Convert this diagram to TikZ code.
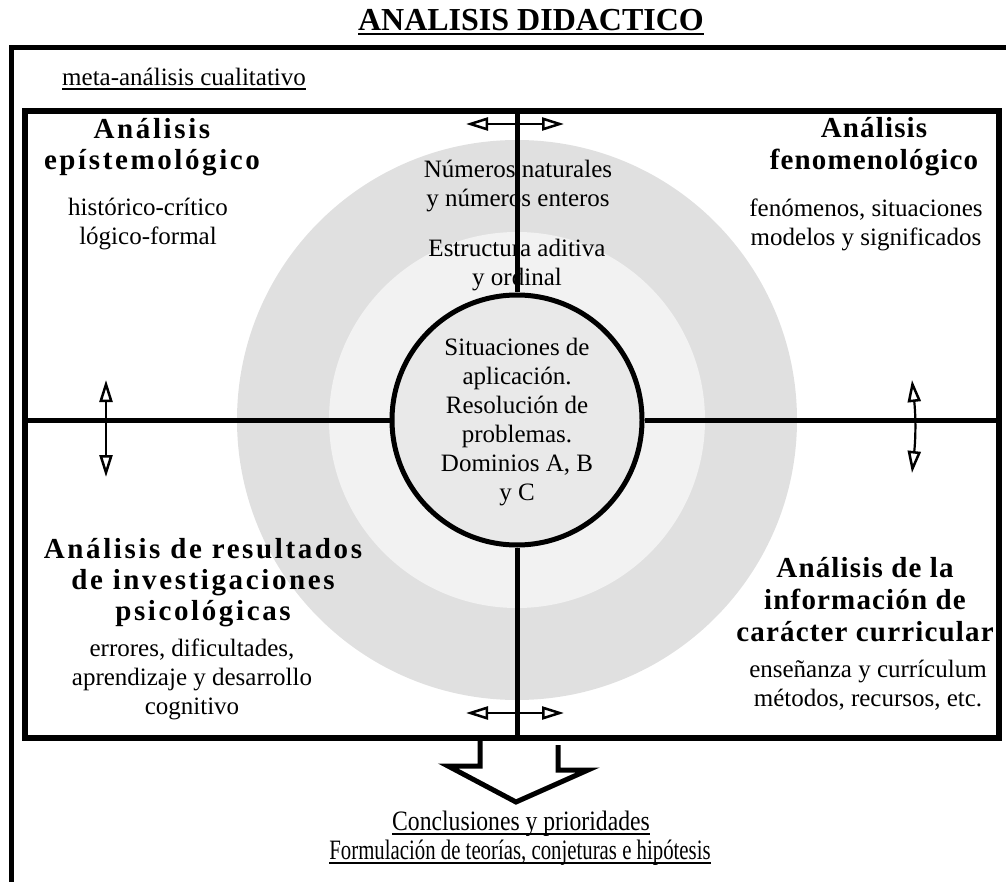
\documentclass[tikz,border=0pt]{standalone}
\usepackage{fontspec}
\setmainfont{Liberation Serif}
\newfontfamily\spacedL{Liberation Serif}[LetterSpace=9]
\newfontfamily\spacedR{Liberation Serif}[LetterSpace=4]
\newcommand\ulthick[1]{\leavevmode\setbox0\hbox{#1}\rlap{\vrule width\wd0 height -2.5pt depth 4.5pt}\box0}
\usetikzlibrary{arrows.meta}
\begin{document}
\begin{tikzpicture}[x=1pt,y=-1pt,
  frame/.style={draw=black,line width=5pt},
  divider/.style={draw=black,line width=5pt},
  dbl/.style={line width=2.2pt,{Triangle[open,length=22pt,width=13pt,line width=2.5pt]}-{Triangle[open,length=22pt,width=13pt,line width=2.5pt]}},
  body/.style={align=center,font=\fontsize{25}{29}\selectfont,inner sep=0pt},
  headL/.style={align=center,font=\fontsize{29}{31}\selectfont\spacedL\bfseries,inner sep=0pt},
  headR/.style={align=center,font=\fontsize{29}{32}\selectfont\spacedR\bfseries,inner sep=0pt},
  bigarrow/.style={draw=black,line width=5pt,line join=miter}]
\useasboundingbox (0,0) rectangle (1006,882);
\begin{scope}
\clip (0,0) rectangle (1006,882);
% shaded discs
\fill[gray!24] (517,420) circle (280pt);
\fill[gray!10] (517,420) circle (188pt);
% outer frame
\draw[frame] (11,48) rectangle (1030,910);
% inner box
\node[draw=black,line width=6pt,minimum width=974pt,minimum height=627pt,inner sep=0pt] (inner) at (512,424.5) {};
% central circle
\node[circle,draw=black,line width=5pt,fill=gray!17,minimum size=250pt,inner sep=0pt] (core) at (517,420) {};
% dividers
\draw[divider] (core.north) -- (core.north |- inner.north);
\draw[divider] (core.south) -- (core.south |- inner.south);
\draw[divider] (core.west) -- (core.west -| inner.west);
\draw[divider] (core.east) -- (core.east -| inner.east);
% double arrows
\coordinate (ta1) at (466,124); \coordinate (ta2) at (564,124);
\coordinate (ba1) at (466,713); \coordinate (ba2) at (564,713);
\coordinate (la1) at (106,380); \coordinate (la2) at (106,477);
\coordinate (ra1) at (912,380); \coordinate (ra2) at (912,473);
\draw[dbl] (ta1) -- (ta2);
\draw[dbl] (ba1) -- (ba2);
\draw[dbl] (la1) -- (la2);
\draw[dbl] (ra1) to[bend left=6] (ra2);
% big arrow
\coordinate (bs1) at (480,738);
\coordinate (bs2) at (558,745);
\draw[bigarrow] (bs1) -- (480,766) -- (448,766) -- (516,802) -- (588,770) -- (558,770) -- (bs2);
% texts
\node[anchor=base,font=\fontsize{32}{36}\selectfont\bfseries,inner sep=0pt] (title) at (531,31) {\ulthick{ANALISIS DIDACTICO}};
\node[anchor=base west,font=\fontsize{25}{29}\selectfont,inner sep=0pt] (meta) at (62,86) {\ulthick{meta-análisis cualitativo}};
\node[headL] (epi) at (152,147) {Análisis\\epístemológico};
\node[body] (epib) at (148,224) {histórico-crítico\\lógico-formal};
\node[headR] (feno) at (874,147) {Análisis\\fenomenológico};
\node[body] (fenob) at (866,225) {fenómenos, situaciones\\modelos y significados};
\node[body] (num) at (518,186) {Números naturales\\y números enteros};
\node[body] (estr) at (517,265) {Estructura aditiva\\y ordinal};
\node[body] (sit) at (517,422) {Situaciones de\\aplicación.\\Resolución de\\problemas.\\Dominios A, B\\y C};
\node[headL] (psi) at (203,583) {Análisis de resultados\\de investigaciones\\psicológicas};
\node[body] (psib) at (192,679) {errores, dificultades,\\aprendizaje y desarrollo\\cognitivo};
\node[headR] (cur) at (865,600) {Análisis de la\\información de\\carácter curricular};
\node[body] (curb) at (868,685) {enseñanza y currículum\\métodos, recursos, etc.};
\node[anchor=base,font=\fontsize{26}{30}\selectfont,inner sep=0pt] (concl) at (521,830) {\scalebox{0.91}[1.08]{\ulthick{Conclusiones y prioridades}}};
\node[anchor=base,font=\fontsize{26}{30}\selectfont,inner sep=0pt] (form) at (520,859) {\scalebox{0.8}[1.08]{\ulthick{Formulación de teorías, conjeturas e hipótesis}}};
\end{scope}
\end{tikzpicture}
\end{document}
